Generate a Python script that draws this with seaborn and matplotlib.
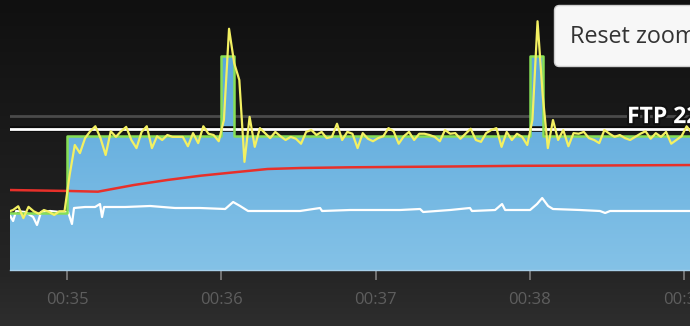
import numpy as np
import pandas as pd
import matplotlib
matplotlib.use("Agg")
import matplotlib.pyplot as plt
import matplotlib.patheffects as pe
from matplotlib.patches import FancyBboxPatch
from matplotlib.colors import LinearSegmentedColormap
import seaborn as sns

# ---------------- data ----------------
# power (W), sampled every 2 s starting at 2077 s
power_start = 2077
power_step = 2
power = [
    93, 96, 102, 83, 101, 94, 90, 96, 93, 88,
    94, 94, 152, 200, 187, 211, 222, 230, 211, 184,
    222, 213, 222, 229, 208, 195, 221, 230, 195, 214,
    208, 216, 213, 213, 213, 198, 219, 203, 230, 218,
    216, 206, 240, 386, 331, 304, 173, 245, 197, 227,
    219, 211, 221, 214, 208, 213, 210, 202, 221, 224,
    216, 221, 211, 213, 234, 208,
    221, 218, 195, 219, 210, 206, 211, 214, 227, 222,
    202, 214, 221, 208, 218, 218, 216, 213, 206, 224,
    218, 219, 210, 218, 226, 208, 205, 219, 224, 227,
    197, 221, 208, 218, 213, 200, 240, 398, 280, 195,
    240, 208, 224, 198, 219, 218, 221, 211, 208, 203,
    224, 218, 213, 216, 211, 208, 213, 218, 222, 210,
    219, 213, 221, 202, 208, 214, 230, 219,
]

# workout target (W), step changes
target_t = [2077, 2100, 2160, 2165, 2280, 2285, 2346]
target_w = [91, 214, 342, 214, 342, 214, 214]

# heart rate (plotted on the same scale)
hr_t = [2077, 2101, 2112, 2126, 2139, 2152, 2165, 2178, 2191, 2210, 2249, 2276, 2307, 2346]
hr_v = [128, 126.4, 125.3, 136, 144, 150.9, 156.3, 161.6, 163.2, 164.3, 165.6, 166.7, 167.2, 168]

# cadence (plotted on the same scale)
cad_t = [2077, 2079.0, 2080.2, 2083.7, 2086.8, 2088.3, 2089.9, 2093.4, 2097.3, 2100.4,
         2101.9, 2102.7, 2107.0, 2110.9, 2112.8, 2113.6, 2114.4, 2122.6, 2132.3, 2142.0,
         2151.7, 2161.5, 2164.6, 2167.3, 2170.4, 2190.6, 2198.4, 2199.2, 2210.1, 2229.5,
         2237.3, 2238.5, 2249.0, 2256.7, 2257.5, 2266.5, 2269.2, 2270.4, 2280.1, 2282.8,
         2284.8, 2287.1, 2289.0, 2299.5, 2307.3, 2309.3, 2311.2, 2346]
cad_v = [92.8, 78.4, 94.4, 92.8, 84.8, 72, 92.8, 94.4, 92.8, 92.8,
         73.6, 99.2, 100.8, 100.8, 105.6, 84.8, 100.8, 100.8, 102.4, 99.2,
         99.2, 97.6, 108.8, 102.4, 94.4, 94.4, 99.2, 94.4, 96, 96,
         97.6, 92.8, 96, 99.2, 94.4, 96, 105.6, 96, 96, 105.6,
         115.2, 102.4, 97.6, 96, 94.4, 91.2, 94.4, 94.4]

ftp = 225
upper_line = 246
ftp_label = "FTP 225"

tick_seconds = [2100, 2160, 2220, 2280, 2340]
tick_labels = ["00:35", "00:36", "00:37", "00:38", "00:39"]

x_min, x_max = 2077.8, 2342.3
y_min, y_max = 0, 432

# ---------------- figure ----------------
W, H = 690, 333
fig = plt.figure(figsize=(W / 100, H / 100), dpi=100)

# background gradient
bg = fig.add_axes([0, 0, 1, 1], zorder=0)
bg.set_xlim(0, W)
bg.set_ylim(H, 0)
bg.axis("off")
rows = np.arange(H)
lvl = np.interp(rows, [0, 270, 326], [16, 37, 46]) / 255.0
img = np.repeat(lvl[:, None], 3, axis=1)[:, None, :]
img[326:, 0, :] = 1.0
bg.imshow(img, extent=[0, W, H, 0], aspect="auto", interpolation="nearest")

# main axes
ax = fig.add_axes([10 / W, (H - 270) / H, 680 / W, 270 / H], zorder=1)
ax.patch.set_alpha(0)

power_t = np.arange(power_start, power_start + power_step * len(power), power_step)
df_power = pd.DataFrame({"t": power_t, "w": power})
df_target = pd.DataFrame({"t": target_t, "w": target_w})
df_hr = pd.DataFrame({"t": hr_t, "v": hr_v})
df_cad = pd.DataFrame({"t": cad_t, "v": cad_v})

# blue gradient area under the target
poly = ax.fill_between(target_t, 0, target_w, step="post", facecolor="none", edgecolor="none")
cmap = LinearSegmentedColormap.from_list("blue", ["#84c2e7", "#5aa7db"])
grad = np.linspace(0, 1, 256).reshape(-1, 1)
im = ax.imshow(grad, extent=[x_min - 5, x_max + 5, 0, 342], origin="lower",
               aspect="auto", cmap=cmap, zorder=1)
im.set_clip_path(poly.get_paths()[0], transform=ax.transData)

# zone line below the fill, FTP line above it
ax.axhline(upper_line, color="#4a4a4a", lw=2, zorder=0.5)
ax.axhline(ftp, color="white", lw=2, zorder=4,
           path_effects=[pe.Stroke(linewidth=4, foreground="#0a0a0a"), pe.Normal()])

sns.lineplot(data=df_cad, x="t", y="v", ax=ax, color="white", lw=1.6, zorder=3, estimator=None)
sns.lineplot(data=df_hr, x="t", y="v", ax=ax, color="#e8302a", lw=1.8, zorder=3, estimator=None)
sns.lineplot(data=df_target, x="t", y="w", ax=ax, color="#86df55", lw=1.8, zorder=5,
             estimator=None, drawstyle="steps-post")
sns.lineplot(data=df_power, x="t", y="w", ax=ax, color="#f3f062", lw=1.6, zorder=6, estimator=None)

ax.text(2317.8, 235, ftp_label, color="white", fontsize=16.5, fontweight="bold",
        family=["Open Sans", "DejaVu Sans"], va="baseline", ha="left", zorder=7,
        clip_on=False,
        path_effects=[pe.Stroke(linewidth=3, foreground="#111111"), pe.Normal()])

ax.set_xlim(x_min, x_max)
ax.set_ylim(y_min, y_max)
ax.set_xlabel("")
ax.set_ylabel("")
ax.set_yticks([])
ax.set_xticks(tick_seconds)
ax.set_xticklabels(tick_labels)
for s in ["top", "right", "left"]:
    ax.spines[s].set_visible(False)
ax.spines["bottom"].set_color("#a6cfea")
ax.spines["bottom"].set_linewidth(1)
ax.tick_params(axis="x", colors="#808080", length=7.5, width=1.2, pad=8,
               labelcolor="#5e5e5e", labelsize=12)
for lab in ax.get_xticklabels():
    lab.set_family(["Open Sans", "DejaVu Sans"])
if ax.get_legend():
    ax.get_legend().remove()

# reset zoom button overlay
ov = fig.add_axes([0, 0, 1, 1], zorder=3)
ov.set_xlim(0, W)
ov.set_ylim(H, 0)
ov.axis("off")
ov.patch.set_alpha(0)
ov.add_patch(FancyBboxPatch((554.5, 5.5), 170, 61, boxstyle="round,pad=0,rounding_size=5",
                            fc="#f7f7f7", ec="#cfcfcf", lw=1))
ov.text(570, 37, "Reset zoom", fontsize=16.8, family=["Open Sans", "DejaVu Sans"],
        color="#333333", va="center", ha="left")

fig.savefig("out.png", dpi=100)
